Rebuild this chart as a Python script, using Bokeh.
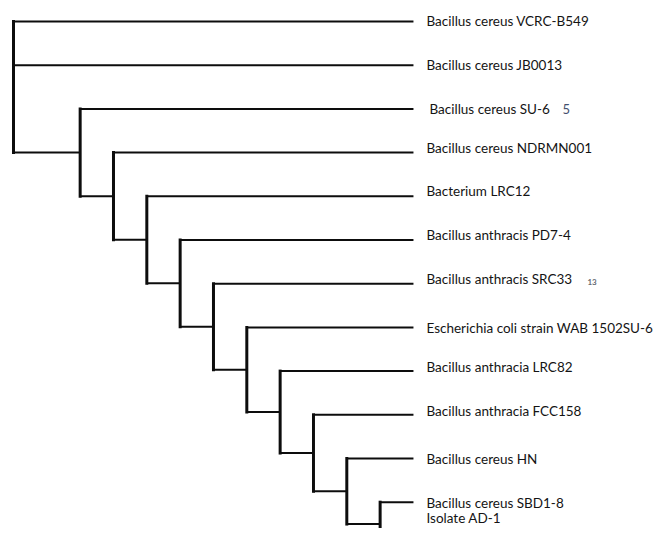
from bokeh.plotting import figure
from bokeh.models import ColumnDataSource, Range1d
from bokeh.core.properties import value
from bokeh.embed import file_html
from bokeh.resources import INLINE

# ---------------- data ----------------
leaf_names = [
    "Bacillus cereus VCRC-B549",
    "Bacillus cereus JB0013",
    "Bacillus cereus SU-6",
    "Bacillus cereus NDRMN001",
    "Bacterium LRC12",
    "Bacillus anthracis PD7-4",
    "Bacillus anthracis SRC33",
    "Escherichia coli strain WAB 1502SU-6",
    "Bacillus anthracia LRC82",
    "Bacillus anthracia FCC158",
    "Bacillus cereus HN",
    "Bacillus cereus SBD1-8",
    "Isolate AD-1",
]
leaf_depth = 12

# internal nodes: name -> children ; depth (distance from root)
node_names = ["root", "N1", "N2", "N3", "N4", "N5", "N6", "N7", "N8", "N9", "N10"]
node_children = [
    ["L0", "L1", "N1"],
    ["L2", "N2"],
    ["L3", "N3"],
    ["L4", "N4"],
    ["L5", "N5"],
    ["L6", "N6"],
    ["L7", "N7"],
    ["L8", "N8"],
    ["L9", "N9"],
    ["L10", "N10"],
    ["L11", "L12"],
]
node_depths = [0, 2, 3, 4, 5, 6, 7, 8, 9, 10, 11]

# stray glyph fragments visible in the source image
stray_texts = ["5", "13"]
stray_leaf = [2, 6]

# ---------------- layout (pixels) ----------------
W, H = 658, 528
X0_PX, DX_PX = 13.0, 33.33     # depth -> plot pixels
Y0_PX, DY_PX = 21.0, 43.7      # leaf index -> plot pixels
LABEL_GAP = 13
label_dx_px = [0, 0, 3, 0, 0, 0, 0, 0, 0, 0, 0, 0, 0]
label_dy_px = [-1, 0, 0, -5, -5, -5, -5, 1, -4, -4, 0, 1, -28]
stray_dx_px = [136, 161]
stray_dy_px = [0, -2]

# ---------------- tree geometry ----------------
pos_y = {}
pos_x = {}
for i in range(len(leaf_names)):
    pos_y["L%d" % i] = float(i)
    pos_x["L%d" % i] = float(leaf_depth)
for name, depth in zip(node_names, node_depths):
    pos_x[name] = float(depth)

def node_y(name):
    if name in pos_y:
        return pos_y[name]
    k = node_names.index(name)
    ys = [node_y(c) for c in node_children[k]]
    yv = (min(ys) + max(ys)) / 2.0
    pos_y[name] = yv
    return yv

for n in node_names:
    node_y(n)

vx0, vy0, vx1, vy1 = [], [], [], []
hx0, hy0, hx1, hy1 = [], [], [], []
for name, kids in zip(node_names, node_children):
    ys = [pos_y[c] for c in kids]
    vx0.append(pos_x[name]); vx1.append(pos_x[name])
    vy0.append(min(ys)); vy1.append(max(ys))
    for c in kids:
        hx0.append(pos_x[name]); hx1.append(pos_x[c])
        hy0.append(pos_y[c]); hy1.append(pos_y[c])

x_start = -X0_PX / DX_PX
y_top = -Y0_PX / DY_PX
p = figure(
    width=W, height=H,
    x_range=Range1d(x_start, x_start + W / DX_PX),
    y_range=Range1d(y_top + H / DY_PX, y_top),
    x_axis_type=None, y_axis_type=None,
    toolbar_location=None, output_backend="svg",
    min_border=0,
)
p.outline_line_color = None
p.xgrid.visible = False
p.ygrid.visible = False
p.background_fill_color = "white"
p.border_fill_color = "white"

line_col = "#0d0d0d"
p.segment(hx0, hy0, hx1, hy1, line_color=line_col, line_width=2)
p.segment(vx0, vy0, vx1, vy1, line_color=line_col, line_width=3, line_cap="square")

lab_x = [leaf_depth + (LABEL_GAP + dx) / DX_PX for dx in label_dx_px]
lab_y = [i + dy / DY_PX for i, dy in enumerate(label_dy_px)]
src = ColumnDataSource(dict(x=lab_x, y=lab_y, t=leaf_names))
p.text(x="x", y="y", text="t", source=src,
       text_font=value("Lato"), text_font_size="13.5px",
       text_baseline="middle", text_align="left", text_color="#141414")

st_x = [leaf_depth + (LABEL_GAP + dx) / DX_PX for dx in stray_dx_px]
st_y = [stray_leaf[k] + stray_dy_px[k] / DY_PX for k in range(len(stray_texts))]
p.text(x=st_x[:1], y=st_y[:1], text=stray_texts[:1],
       text_font=value("Lato"), text_font_size="13px",
       text_baseline="middle", text_align="left", text_color="#44506e")
p.text(x=st_x[1:], y=st_y[1:], text=stray_texts[1:],
       text_font=value("Lato"), text_font_size="8px", text_font_style="bold",
       text_baseline="middle", text_align="left", text_color="#666a72")

open("out.html", "w").write(file_html(p, INLINE))
